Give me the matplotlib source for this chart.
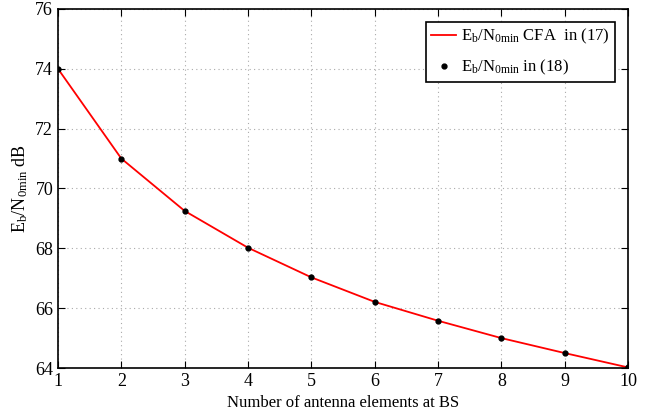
import matplotlib
matplotlib.use('Agg')
import matplotlib.pyplot as plt

# === DATA ===
antennas = [1, 2, 3, 4, 5, 6, 7, 8, 9, 10]
ebn0_cfa = [74.0, 71.0, 69.25, 68.02, 67.03, 66.21, 65.58, 65.0, 64.5, 64.02]
ebn0_eq18 = [74.0, 71.0, 69.25, 68.02, 67.03, 66.21, 65.58, 65.0, 64.5, 64.02]

# === STYLE ===
plt.rcParams['font.family'] = ['Liberation Serif', 'DejaVu Serif']
plt.rcParams['mathtext.fontset'] = 'custom'
plt.rcParams['mathtext.rm'] = 'Liberation Serif'
plt.rcParams['mathtext.it'] = 'Liberation Serif:italic'

fig = plt.figure(figsize=(6.53, 4.18), dpi=100)
ax = fig.add_axes([0.0888, 0.1196, 0.8729, 0.859])

ax.plot(antennas, ebn0_cfa, color='red', lw=1.3,
        label=r'E$_{\mathrm{b}}$/N$_{\mathrm{0min}}$ CFA  in (17)')
ax.plot(antennas, ebn0_eq18, 'ko', ms=3.5, linestyle='none',
        label=r'E$_{\mathrm{b}}$/N$_{\mathrm{0min}}$ in (18)')

ax.set_xlim(1, 10)
ax.set_ylim(64, 76)
ax.set_xticks(range(1, 11))
ax.set_yticks(range(64, 77, 2))
ax.tick_params(direction='in', top=True, right=True, labelsize=13, length=5)
ax.grid(True, linestyle=(0, (1, 3)), color='#aaaaaa', lw=0.8)
for s in ax.spines.values():
    s.set_linewidth(1.2)

ax.set_xlabel('Number of antenna elements at BS', fontsize=12)
ax.set_ylabel(r'E$_{\mathrm{b}}$/N$_{\mathrm{0min}}$ dB', fontsize=13)

leg = ax.legend(loc='upper right', fontsize=12, fancybox=False, framealpha=1,
                edgecolor='black', handlelength=1.5, handletextpad=0.3,
                borderaxespad=0.8, labelspacing=0.7, borderpad=0.3)
leg.get_frame().set_linewidth(1.2)

plt.savefig('out.png', dpi=100)
